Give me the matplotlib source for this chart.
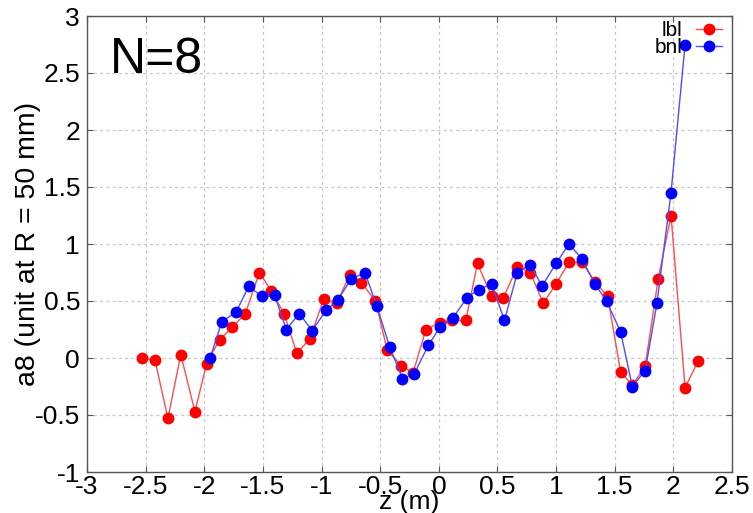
import matplotlib
matplotlib.use("Agg")
import matplotlib.pyplot as plt

plt.rcParams['font.family'] = ['Liberation Sans', 'DejaVu Sans']

# multipole coefficient a8 along the magnet axis
z_lbl = [-2.53, -2.42, -2.31, -2.20, -2.08, -1.98, -1.87, -1.76, -1.65, -1.53,
         -1.43, -1.32, -1.21, -1.10, -0.98, -0.87, -0.76, -0.66, -0.54, -0.44,
         -0.32, -0.22, -0.11, 0.01, 0.11, 0.23, 0.33, 0.45, 0.55, 0.67,
         0.78, 0.89, 1.00, 1.11, 1.22, 1.33, 1.44, 1.55, 1.65, 1.76,
         1.87, 1.98, 2.10, 2.21]
a8_lbl = [0.00, -0.02, -0.53, 0.03, -0.47, -0.05, 0.16, 0.27, 0.39, 0.75,
          0.59, 0.39, 0.04, 0.17, 0.52, 0.48, 0.73, 0.66, 0.50, 0.07,
          -0.07, -0.13, 0.25, 0.31, 0.33, 0.33, 0.83, 0.54, 0.53, 0.80,
          0.75, 0.48, 0.65, 0.84, 0.84, 0.67, 0.54, -0.12, -0.24, -0.07,
          0.69, 1.25, -0.26, -0.03]

z_bnl = [-1.95, -1.85, -1.73, -1.62, -1.51, -1.40, -1.30, -1.19, -1.08, -0.96,
         -0.86, -0.75, -0.63, -0.53, -0.42, -0.31, -0.21, -0.09, 0.01, 0.12,
         0.24, 0.34, 0.45, 0.56, 0.67, 0.78, 0.88, 1.00, 1.11, 1.22,
         1.33, 1.43, 1.55, 1.65, 1.76, 1.86, 1.98, 2.10]
a8_bnl = [0.00, 0.32, 0.40, 0.63, 0.54, 0.55, 0.25, 0.39, 0.24, 0.42,
          0.51, 0.69, 0.75, 0.46, 0.10, -0.18, -0.14, 0.11, 0.27, 0.35,
          0.53, 0.60, 0.65, 0.33, 0.75, 0.82, 0.63, 0.83, 1.00, 0.87,
          0.65, 0.50, 0.23, -0.25, -0.11, 0.48, 1.45, 2.75]

xticks = [-3, -2.5, -2, -1.5, -1, -0.5, 0, 0.5, 1, 1.5, 2, 2.5]
xticklabels = ['-3', '-2.5', '-2', '-1.5', '-1', '-0.5', '0', '0.5', '1', '1.5', '2', '2.5']
yticks = [-1, -0.5, 0, 0.5, 1, 1.5, 2, 2.5, 3]
yticklabels = ['-1', '-0.5', '0', '0.5', '1', '1.5', '2', '2.5', '3']

fig = plt.figure(figsize=(7.53, 5.13), dpi=100)
ax = fig.add_axes([87/753, 1 - 472/513, (732 - 87)/753, (472 - 16)/513])

ax.plot(z_lbl, a8_lbl, '-o', color=(1.0, 0.3, 0.3), lw=1.0, ms=7.5,
        mec='red', mfc='red', label='lbl', zorder=3)
ax.plot(z_bnl, a8_bnl, '-o', color=(0.3, 0.3, 1.0), lw=1.0, ms=7.5,
        mec='blue', mfc='blue', label='bnl', zorder=4)

ax.set_xlim(-3, 2.5)
ax.set_ylim(-1, 3)
ax.set_xticks(xticks)
ax.set_xticklabels(xticklabels)
ax.set_yticks(yticks)
ax.set_yticklabels(yticklabels)
ax.tick_params(direction='in', length=4, width=0.8, colors='#555555',
               labelcolor='black', labelsize=19, top=True, right=True)
ax.tick_params(axis='x', pad=2)
ax.tick_params(axis='y', pad=5)

ax.grid(True, color='#c8c8c8', linestyle=(0, (2.5, 2.5)), linewidth=0.9)
ax.set_axisbelow(True)
for side in ['left', 'bottom', 'right', 'top']:
    ax.spines[side].set_color('#555555')
    ax.spines[side].set_linewidth(1.0)

ax.set_xlabel('z (m)', fontsize=19, labelpad=-6)
ax.set_ylabel('a8 (unit at R = 50 mm)', fontsize=20.5)
ax.yaxis.label.set_verticalalignment('center')
ax.yaxis.set_label_coords((28 - 87)/645, (472 - 244)/456)

ax.text(0.035, 0.955, 'N=8', transform=ax.transAxes, fontsize=36,
        ha='left', va='top')

leg = ax.legend(loc='upper right', frameon=False, markerfirst=False,
                fontsize=15, handlelength=1.25, handletextpad=0.65,
                labelspacing=-0.1, borderaxespad=0.0, borderpad=0.3,
                bbox_to_anchor=(1 - 4/645, 1 + 1/456))

fig.savefig('out.png', dpi=100)
